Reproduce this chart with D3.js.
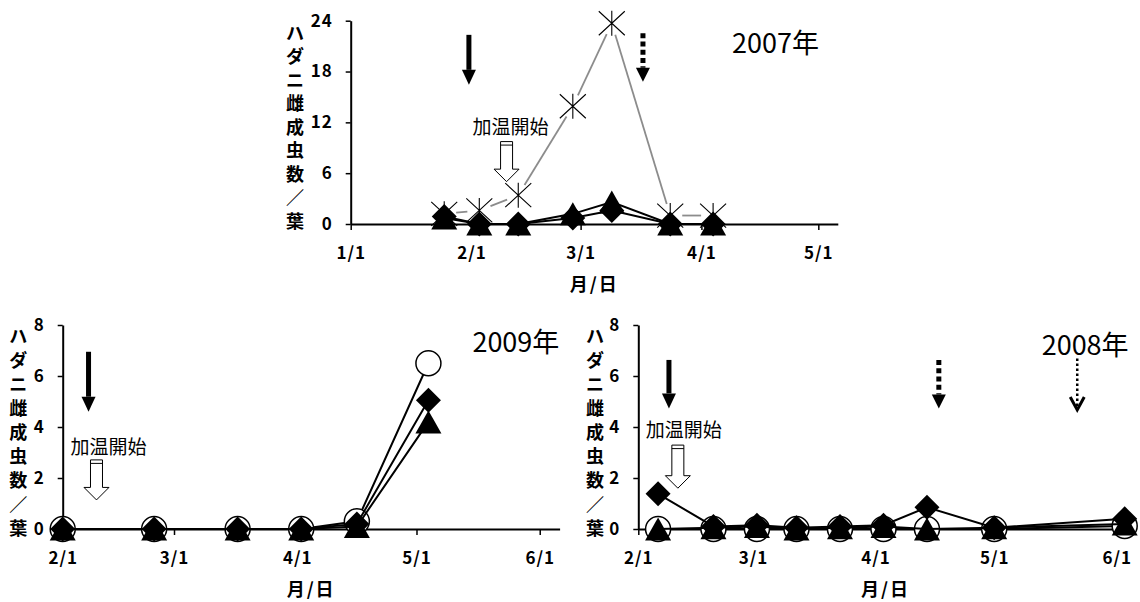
<!DOCTYPE html>
<html>
<head>
<meta charset="utf-8">
<style>
body { margin: 0; background: #fff; }
text { font-family: "Noto Sans CJK JP", "Noto Sans", sans-serif; fill: #000; }
.axis path, .axis line { stroke: #000; }
.axis path { stroke-width: 2; }
.axis line { stroke-width: 1.5; }
.axis text { font-size: 17px; font-weight: bold; letter-spacing: 1px; }
</style>
</head>
<body>
<script src="https://d3js.org/d3.v7.min.js"></script>
<svg width="1140" height="602"></svg>
<script>
var yLabel = "ハダニ雌成虫数／葉";
var xLabel = "月/日";
var heatText = "加温開始";

// 2007
var dates2007 = ["2007-01-25", "2007-02-03", "2007-02-13", "2007-02-27", "2007-03-09", "2007-03-24", "2007-04-04"];
var diamond2007 = [0.9, 0, 0, 0.7, 1.6, 0, 0];
var triangle2007 = [0.7, 0, 0, 1.2, 2.6, 0, 0];
var star2007 = [1.2, 1.6, 3.4, 13.9, 23.7, 1.0, 1.0];
var xTicks2007 = ["2007-01-01", "2007-02-01", "2007-03-01", "2007-04-01", "2007-05-01"];
var yTicks2007 = [0, 6, 12, 18, 24];

// 2009
var dates2009 = ["2009-02-01", "2009-02-24", "2009-03-17", "2009-04-02", "2009-04-16", "2009-05-04"];
var circle2009 = [0, 0, 0, 0, 0.3, 6.5];
var diamond2009 = [0, 0, 0, 0, 0.2, 5.05];
var triangle2009 = [0, 0, 0, 0, 0.1, 4.2];
var xTicks2009 = ["2009-02-01", "2009-03-01", "2009-04-01", "2009-05-01", "2009-06-01"];

// 2008
var dates2008 = ["2008-02-06", "2008-02-20", "2008-03-02", "2008-03-12", "2008-03-23", "2008-04-03", "2008-04-14", "2008-05-01", "2008-06-03"];
var circle2008 = [0, 0, 0, 0, 0, 0, 0, 0, 0.12];
var diamond2008 = [1.38, 0.1, 0.15, 0.05, 0.1, 0.15, 0.85, 0.05, 0.4];
var triangle2008 = [0, 0.05, 0.1, 0, 0.05, 0.1, 0, 0.05, 0.2];
var xTicks2008 = ["2008-02-01", "2008-03-01", "2008-04-01", "2008-05-01", "2008-06-01"];

var yTicksSmall = [0, 2, 4, 6, 8];

var parseDate = function(s) {
    return d3.utcParse(s.length > 10 ? "%Y-%m-%dT%H:%M" : "%Y-%m-%d")(s);
};

var shapes = {
    diamond: "M0,-12.5L12.5,0L0,12.5L-12.5,0Z",
    triangle: "M0,-11.5L13,11.5L-13,11.5Z",
    star: "M0,-12.5V12.5M-13,-12L13,12M-13,12L13,-12"
};

var panels = [
    {
        year: "2007年", left: 350.7, right: 837.8, top: 20.7, bottom: 224,
        xDomain: ["2007-01-01", "2007-05-06"], yDomain: [0, 24],
        xTicks: xTicks2007, yTicks: yTicks2007, dates: dates2007,
        series: [
            { shape: "diamond", values: diamond2007 },
            { shape: "triangle", values: triangle2007 },
            { shape: "star", values: star2007 }
        ],
        labelX: 295, labelTop: 31.7, labelStep: 23.5,
        yearAt: ["2007-04-20", 20.2],
        heatAt: ["2007-02-11", 10.63],
        arrows: [
            { type: "solid", date: "2007-01-31T08:00", y1: 22.33, y2: 16.43 },
            { type: "dashed", date: "2007-03-17", y1: 22.53, y2: 16.8 },
            { type: "hollow", date: "2007-02-10", y1: 9.73, y2: 5.0 }
        ]
    },
    {
        year: "2009年", left: 62.7, right: 559.6, top: 325, bottom: 529,
        xDomain: ["2009-02-01", "2009-06-06"], yDomain: [0, 8],
        xTicks: xTicks2009, yTicks: yTicksSmall, dates: dates2009,
        series: [
            { shape: "circle", values: circle2009 },
            { shape: "diamond", values: diamond2009 },
            { shape: "triangle", values: triangle2009 }
        ],
        labelX: 18.3, labelTop: 335, labelStep: 23.96,
        yearAt: ["2009-05-26", 6.95],
        heatAt: ["2009-02-12T12:00", 2.94],
        arrows: [
            { type: "solid", date: "2009-02-07T12:00", y1: 6.95, y2: 4.6 },
            { type: "hollow", date: "2009-02-09T12:00", y1: 2.71, y2: 1.14 }
        ]
    },
    {
        year: "2008年", left: 638.3, right: 1132.6, top: 325, bottom: 529,
        xDomain: ["2008-02-01", "2008-06-05"], yDomain: [0, 8],
        xTicks: xTicks2008, yTicks: yTicksSmall, dates: dates2008,
        series: [
            { shape: "circle", values: circle2008 },
            { shape: "diamond", values: diamond2008 },
            { shape: "triangle", values: triangle2008 }
        ],
        labelX: 595, labelTop: 335, labelStep: 23.96,
        yearAt: ["2008-05-24", 6.82],
        heatAt: ["2008-02-12T12:00", 3.61],
        arrows: [
            { type: "solid", date: "2008-02-08T18:00", y1: 6.63, y2: 4.73 },
            { type: "hollow", date: "2008-02-11", y1: 3.29, y2: 1.6 },
            { type: "dashed", date: "2008-04-17", y1: 6.63, y2: 4.73 },
            { type: "dotted", date: "2008-05-22", y1: 6.69, y2: 4.67 }
        ]
    }
];

var svg = d3.select("svg");

function drawArrow(g, type, cx, y1, y2) {
    if (type == "solid") {
        g.append("rect").attr("x", cx - 2.5).attr("y", y1).attr("width", 5).attr("height", y2 - 15 - y1).attr("fill", "#000");
        g.append("path").attr("d", "M" + (cx - 7) + "," + (y2 - 15) + "L" + (cx + 7) + "," + (y2 - 15) + "L" + cx + "," + y2 + "Z").attr("fill", "#000");
    } else if (type == "dashed") {
        g.append("line").attr("x1", cx).attr("x2", cx).attr("y1", y1).attr("y2", y2 - 14)
            .attr("stroke", "#000").attr("stroke-width", 5).attr("stroke-dasharray", "5,3.3");
        g.append("path").attr("d", "M" + (cx - 7) + "," + (y2 - 14) + "L" + (cx + 7) + "," + (y2 - 14) + "L" + cx + "," + y2 + "Z").attr("fill", "#000");
    } else if (type == "dotted") {
        g.append("line").attr("x1", cx).attr("x2", cx).attr("y1", y1).attr("y2", y2 - 3)
            .attr("stroke", "#000").attr("stroke-width", 2.5).attr("stroke-dasharray", "2.5,2.5");
        g.append("path").attr("d", "M" + (cx - 7) + "," + (y2 - 13) + "L" + cx + "," + y2 + "L" + (cx + 7) + "," + (y2 - 13))
            .attr("fill", "none").attr("stroke", "#000").attr("stroke-width", 3);
    } else if (type == "hollow") {
        var hb = y2 - 12.5;
        g.append("path")
            .attr("d", "M" + (cx - 6) + "," + y1 + "L" + (cx + 6) + "," + y1 + "L" + (cx + 6) + "," + hb +
                "L" + (cx + 12.5) + "," + hb + "L" + cx + "," + y2 + "L" + (cx - 12.5) + "," + hb +
                "L" + (cx - 6) + "," + hb + "Z")
            .attr("fill", "#fff").attr("stroke", "#000").attr("stroke-width", 1);
        g.append("line").attr("x1", cx - 6).attr("x2", cx + 6).attr("y1", y1 + 3.5).attr("y2", y1 + 3.5)
            .attr("stroke", "#000").attr("stroke-width", 1);
    }
}

panels.forEach(function(p) {
    var x = d3.scaleUtc().domain(p.xDomain.map(parseDate)).range([p.left, p.right]);
    var y = d3.scaleLinear().domain(p.yDomain).range([p.bottom, p.top]);
    var g = svg.append("g");

    g.append("g").attr("class", "axis")
        .attr("transform", "translate(0," + p.bottom + ")")
        .call(d3.axisBottom(x)
            .tickValues(p.xTicks.map(parseDate))
            .tickFormat(d3.utcFormat("%-m/%-d"))
            .tickSizeInner(6).tickSizeOuter(0).tickPadding(17));

    g.append("g").attr("class", "axis")
        .attr("transform", "translate(" + p.left + ",0)")
        .call(d3.axisLeft(y).tickValues(p.yTicks).tickSizeInner(5).tickSizeOuter(0).tickPadding(13));

    // vertical y label, one char per line
    g.selectAll("text.ylab")
        .data(yLabel.split(""))
        .enter().append("text")
        .attr("class", "ylab")
        .attr("x", p.labelX)
        .attr("y", (d, i) => p.labelTop + i * p.labelStep)
        .attr("text-anchor", "middle")
        .attr("dominant-baseline", "central")
        .attr("fill", "#000")
        .style("opacity", 0.999)
        .style("font-size", "18px").style("font-weight", "bold")
        .text(d => d);

    g.append("text")
        .attr("x", (p.left + p.right) / 2).attr("y", p.bottom + 59)
        .attr("text-anchor", "middle").attr("dominant-baseline", "central")
        .style("font-size", "18px").style("font-weight", "bold").style("letter-spacing", "2px")
        .text(xLabel);

    g.append("text")
        .attr("x", x(parseDate(p.yearAt[0]))).attr("y", y(p.yearAt[1]))
        .attr("text-anchor", "middle")
        .style("font-size", "27px")
        .text(p.year);

    g.append("text")
        .attr("x", x(parseDate(p.heatAt[0]))).attr("y", y(p.heatAt[1]))
        .attr("text-anchor", "middle")
        .style("font-size", "19px")
        .text(heatText);

    p.arrows.forEach(function(a) {
        drawArrow(g, a.type, x(parseDate(a.date)), y(a.y1), y(a.y2));
    });

    var dates = p.dates.map(parseDate);

    p.series.forEach(function(s) {
        var pts = dates.map((d, i) => [x(d), y(s.values[i])]);
        if (s.shape == "star") {
            // grey line broken around each marker
            var gap = 12;
            for (var i = 0; i < pts.length - 1; i++) {
                var a = pts[i], b = pts[i + 1];
                var dx = b[0] - a[0], dy = b[1] - a[1];
                var len = Math.sqrt(dx * dx + dy * dy);
                if (len <= 2 * gap) continue;
                var ux = dx / len, uy = dy / len;
                g.append("line")
                    .attr("x1", a[0] + ux * gap).attr("y1", a[1] + uy * gap)
                    .attr("x2", b[0] - ux * gap).attr("y2", b[1] - uy * gap)
                    .attr("stroke", "#8c8c8c").attr("stroke-width", 1.8);
            }
        } else {
            g.append("path")
                .attr("d", d3.line()(pts))
                .attr("fill", "none").attr("stroke", "#000").attr("stroke-width", 2);
        }

        var m = g.selectAll(null).data(pts).enter();
        if (s.shape == "circle") {
            m.append("circle")
                .attr("cx", d => d[0]).attr("cy", d => d[1]).attr("r", 12.5)
                .attr("fill", "#fff").attr("stroke", "#000").attr("stroke-width", 1.5);
        } else if (s.shape == "star") {
            m.append("path")
                .attr("transform", d => "translate(" + d[0] + "," + d[1] + ")")
                .attr("d", shapes.star)
                .attr("fill", "none").attr("stroke", "#000").attr("stroke-width", 1.1);
        } else {
            m.append("path")
                .attr("transform", d => "translate(" + d[0] + "," + d[1] + ")")
                .attr("d", shapes[s.shape])
                .attr("fill", "#000");
        }
    });
});
</script>
</body>
</html>
